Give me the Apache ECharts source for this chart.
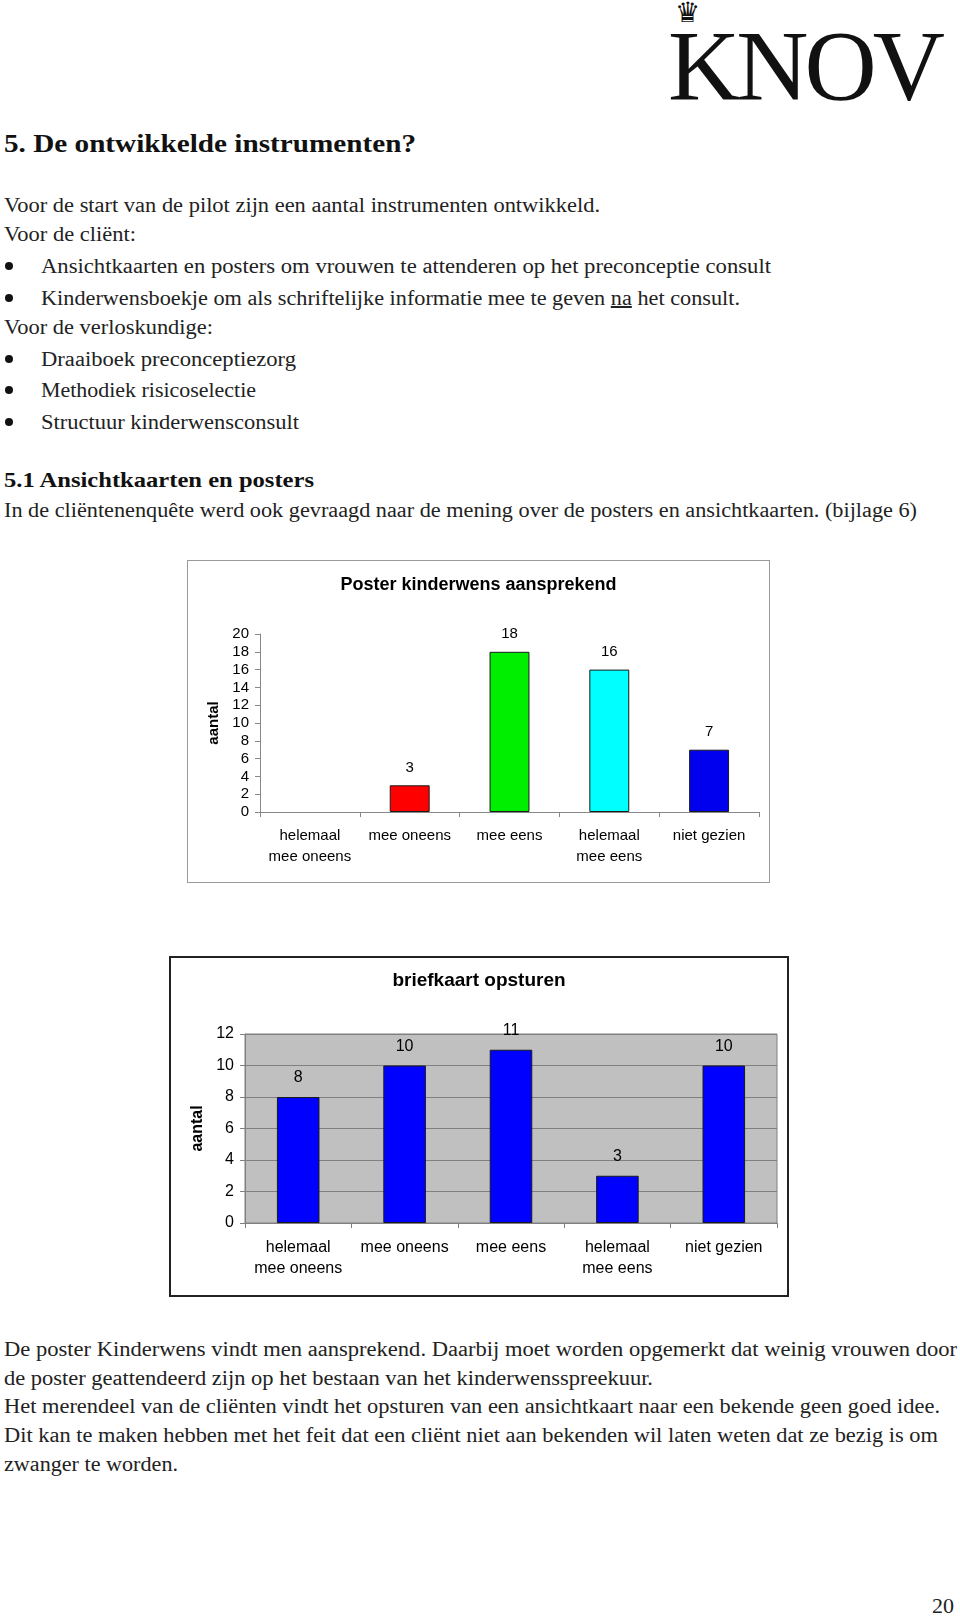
<!DOCTYPE html>
<html>
<head>
<meta charset="utf-8">
<script src="https://cdn.jsdelivr.net/npm/echarts/dist/echarts.min.js"></script>
<style>
  html, body { margin: 0; padding: 0; background: #fff; }
  body { width: 960px; height: 1617px; position: relative; overflow: hidden;
         font-family: "Liberation Serif", "DejaVu Serif", serif; color: #222; }
  .ln { position: absolute; white-space: nowrap; height: 30px; line-height: 30px; font-size: 20px; }
  .ln span { display: inline-block; transform-origin: 0 50%; }
  .h { font-weight: bold; color: #111; }
  .bul { position: absolute; width: 8px; height: 8px; border-radius: 50%; background: #111; }
  .logo { position: absolute; left: 668px; top: 16px; font-size: 100px; line-height: 100px;
          letter-spacing: -4px; font-family: "Liberation Serif", serif; color: #111; }
  .crown { position: absolute; left: 675px; top: -2px; font-size: 28px; line-height: 30px;
           font-family: "DejaVu Sans", sans-serif; color: #111; }
  #poster_chart { position: absolute; left: 187px; top: 560px; width: 583px; height: 323px;
                  border: 1px solid #9a9a9a; box-sizing: border-box; }
  #kaart_chart { position: absolute; left: 169px; top: 956px; width: 620px; height: 341px;
                 border: 2px solid #222; box-sizing: border-box; }
</style>
</head>
<body>

<div class="crown">♛</div>
<div class="logo">KNOV</div>

<div class="ln h" style="left:4px; top:129px; font-size:25px;" data-w="412"><span>5. De ontwikkelde instrumenten?</span></div>

<div class="ln" style="left:4px; top:190px;" data-w="596"><span>Voor de start van de pilot zijn een aantal instrumenten ontwikkeld.</span></div>
<div class="ln" style="left:4px; top:219px;" data-w="132"><span>Voor de cliënt:</span></div>
<div class="bul" style="left:5px; top:262px;"></div>
<div class="ln" style="left:41px; top:251px;" data-w="730"><span>Ansichtkaarten en posters om vrouwen te attenderen op het preconceptie consult</span></div>
<div class="bul" style="left:5px; top:294px;"></div>
<div class="ln" style="left:41px; top:283px;" data-w="699"><span>Kinderwensboekje om als schriftelijke informatie mee te geven <u>na</u> het consult.</span></div>
<div class="ln" style="left:4px; top:312px;" data-w="209"><span>Voor de verloskundige:</span></div>
<div class="bul" style="left:5px; top:355px;"></div>
<div class="ln" style="left:41px; top:344px;" data-w="255"><span>Draaiboek preconceptiezorg</span></div>
<div class="bul" style="left:5px; top:386px;"></div>
<div class="ln" style="left:41px; top:375px;" data-w="215"><span>Methodiek risicoselectie</span></div>
<div class="bul" style="left:5px; top:418px;"></div>
<div class="ln" style="left:41px; top:407px;" data-w="258"><span>Structuur kinderwensconsult</span></div>

<div class="ln h" style="left:4px; top:465px; font-size:21px;" data-w="310"><span>5.1 Ansichtkaarten en posters</span></div>
<div class="ln" style="left:4px; top:495px;" data-w="913"><span>In de cliëntenenquête werd ook gevraagd naar de mening over de posters en ansichtkaarten. (bijlage 6)</span></div>

<div id="poster_chart"></div>
<div id="kaart_chart"></div>

<div class="ln" style="left:4px; top:1334px;" data-w="953"><span>De poster Kinderwens vindt men aansprekend. Daarbij moet worden opgemerkt dat weinig vrouwen door</span></div>
<div class="ln" style="left:4px; top:1363px;" data-w="649"><span>de poster geattendeerd zijn op het bestaan van het kinderwensspreekuur.</span></div>
<div class="ln" style="left:4px; top:1391px;" data-w="936"><span>Het merendeel van de cliënten vindt het opsturen van een ansichtkaart naar een bekende geen goed idee.</span></div>
<div class="ln" style="left:4px; top:1420px;" data-w="934"><span>Dit kan te maken hebben met het feit dat een cliënt niet aan bekenden wil laten weten dat ze bezig is om</span></div>
<div class="ln" style="left:4px; top:1449px;" data-w="174"><span>zwanger te worden.</span></div>

<div class="ln" style="left:932px; top:1591px; font-size:22px;"><span>20</span></div>

<script>
// antwoordcategorieën (gelijk voor beide grafieken)
var categories = ['helemaal\nmee oneens', 'mee oneens', 'mee eens', 'helemaal\nmee eens', 'niet gezien'];
// Poster kinderwens aansprekend
var posterValues = [0, 3, 18, 16, 7];
var posterTicks = [0, 2, 4, 6, 8, 10, 12, 14, 16, 18, 20];
// briefkaart opsturen
var kaartValues = [8, 10, 11, 3, 10];
var kaartTicks = [0, 2, 4, 6, 8, 10, 12];

// tekstregels op de breedte van het origineel brengen
function fit_lines(){
    var lines = document.querySelectorAll('.ln[data-w]');
    for (var i = 0; i < lines.length; i++) {
        var span = lines[i].querySelector('span');
        var w = span.getBoundingClientRect().width;
        var target = parseFloat(lines[i].getAttribute('data-w'));
        if (w > 0) span.style.transform = 'scaleX(' + (target / w) + ')';
    }
}

var font = '"Liberation Sans", Arial, sans-serif';

function load_poster_chart(){
    var chart = echarts.init(document.getElementById('poster_chart'), null, {renderer: 'canvas'});
    var barColors = ['#0000ff', '#ff0000', '#00ee00', '#00ffff', '#0000ee'];
    var option = {
        animation: false,
        textStyle: { fontFamily: font },
        title: {
            text: 'Poster kinderwens aansprekend',
            left: 'center', top: 15, padding: 0,
            textStyle: { fontSize: 18, fontWeight: 'bold', color: '#000', fontFamily: font }
        },
        grid: { left: 72, top: 73, width: 499, height: 178, containLabel: false },
        xAxis: {
            type: 'category',
            data: categories,
            axisLine: { lineStyle: { color: '#888', width: 1 } },
            axisTick: { show: true, length: 5, lineStyle: { color: '#888' } },
            axisLabel: { interval: 0, fontSize: 15, color: '#000', lineHeight: 21, margin: 13, fontFamily: font }
        },
        yAxis: {
            type: 'value',
            min: posterTicks[0], max: posterTicks[posterTicks.length - 1], interval: 2,
            name: 'aantal', nameLocation: 'middle', nameRotate: 90, nameGap: 38,
            nameTextStyle: { fontSize: 15, fontWeight: 'bold', color: '#000', fontFamily: font },
            splitLine: { show: false },
            axisLine: { show: true, lineStyle: { color: '#888', width: 1 } },
            axisTick: { show: true, length: 5, lineStyle: { color: '#888' } },
            axisLabel: { fontSize: 15, color: '#000', margin: 11, fontFamily: font }
        },
        series: [{
            type: 'bar',
            // een lege balk (0) krijgt geen rand
            data: posterValues.map(function (v, i) {
                return { value: v, itemStyle: { color: barColors[i], borderWidth: v === 0 ? 0 : 1 } };
            }),
            barCategoryGap: '60%',
            itemStyle: { borderColor: '#1a1a1a' },
            label: {
                show: true, position: 'top', distance: 10,
                fontSize: 15, color: '#000', fontFamily: font,
                formatter: function (p) { return p.value === 0 ? '' : p.value; }
            }
        }]
    };
    chart.setOption(option, true);
}

function load_kaart_chart(){
    var chart = echarts.init(document.getElementById('kaart_chart'), null, {renderer: 'canvas'});
    var option = {
        animation: false,
        textStyle: { fontFamily: font },
        title: {
            text: 'briefkaart opsturen',
            left: 'center', top: 13, padding: 0,
            textStyle: { fontSize: 19, fontWeight: 'bold', color: '#000', fontFamily: font }
        },
        grid: {
            left: 74, top: 76, width: 532, height: 189, containLabel: false,
            show: true, backgroundColor: '#c0c0c0', borderColor: '#808080', borderWidth: 1
        },
        xAxis: {
            type: 'category',
            data: categories,
            axisLine: { lineStyle: { color: '#808080', width: 1 } },
            axisTick: { show: true, length: 5, lineStyle: { color: '#808080' } },
            axisLabel: { interval: 0, fontSize: 16, color: '#000', lineHeight: 21, margin: 14, fontFamily: font }
        },
        yAxis: {
            type: 'value',
            min: kaartTicks[0], max: kaartTicks[kaartTicks.length - 1], interval: 2,
            name: 'aantal', nameLocation: 'middle', nameRotate: 90, nameGap: 37,
            nameTextStyle: { fontSize: 16, fontWeight: 'bold', color: '#000', fontFamily: font },
            splitLine: { show: true, lineStyle: { color: '#808080', width: 1 } },
            axisLine: { show: true, lineStyle: { color: '#808080', width: 1 } },
            axisTick: { show: true, length: 5, lineStyle: { color: '#808080' } },
            axisLabel: { fontSize: 16, color: '#000', margin: 11, fontFamily: font }
        },
        series: [{
            type: 'bar',
            data: kaartValues,
            barCategoryGap: '60%',
            itemStyle: { color: '#0000ff', borderColor: '#1a1a1a', borderWidth: 1 },
            label: { show: true, position: 'top', distance: 11, fontSize: 16, color: '#000', fontFamily: font }
        }]
    };
    chart.setOption(option, true);
}

fit_lines();
load_poster_chart();
load_kaart_chart();
</script>
</body>
</html>
